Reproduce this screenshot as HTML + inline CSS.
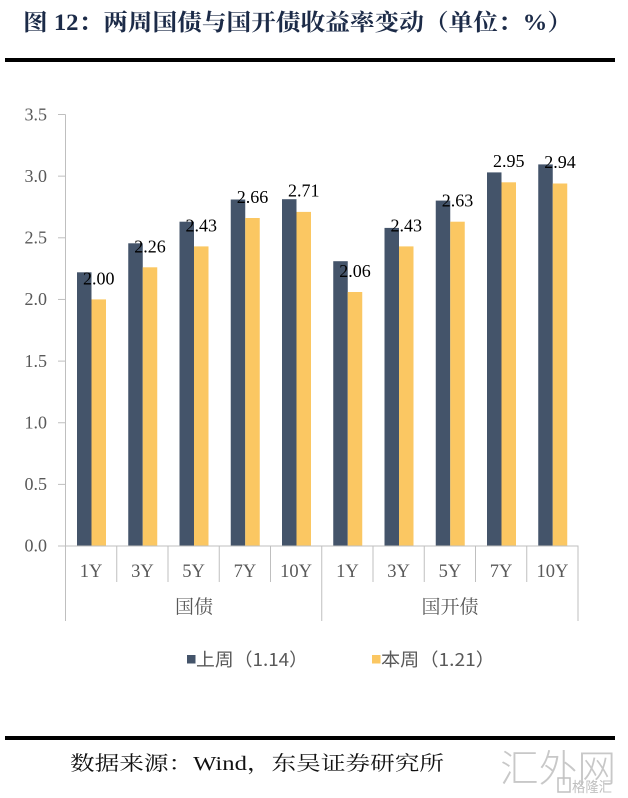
<!DOCTYPE html>
<html>
<head>
<meta charset="utf-8">
<style>
  html, body { margin: 0; padding: 0; background: #ffffff; }
  body { width: 628px; height: 798px; overflow: hidden; }
  svg { display: block; }
</style>
</head>
<body>
<svg width="628" height="798" viewBox="0 0 628 798" xmlns="http://www.w3.org/2000/svg">
  <rect x="0" y="0" width="628" height="798" fill="#ffffff"/>

  <!-- Title -->
  <text x="23" y="30" font-family="'Liberation Serif','Noto Serif CJK SC',serif" font-size="23" font-weight="bold" fill="#1c2b48" textLength="549" lengthAdjust="spacingAndGlyphs">图 12：两周国债与国开债收益率变动（单位：%）</text>

  <!-- Top rule -->
  <rect x="5" y="58" width="610" height="4" fill="#000000"/>

  <!-- Y axis -->
  <line x1="65.5" y1="114.5" x2="65.5" y2="546" stroke="#bfbfbf" stroke-width="1"/>
  <g stroke="#bfbfbf" stroke-width="1">
    <line x1="58" y1="114.5" x2="65.5" y2="114.5"/>
    <line x1="58" y1="176.15" x2="65.5" y2="176.15"/>
    <line x1="58" y1="237.8" x2="65.5" y2="237.8"/>
    <line x1="58" y1="299.45" x2="65.5" y2="299.45"/>
    <line x1="58" y1="361.1" x2="65.5" y2="361.1"/>
    <line x1="58" y1="422.75" x2="65.5" y2="422.75"/>
    <line x1="58" y1="484.4" x2="65.5" y2="484.4"/>
  </g>
  <g font-family="'Liberation Serif',serif" font-size="18" fill="#595959" text-anchor="end">
    <text x="47" y="120.5">3.5</text>
    <text x="47" y="182">3.0</text>
    <text x="47" y="243.5">2.5</text>
    <text x="47" y="305">2.0</text>
    <text x="47" y="367">1.5</text>
    <text x="47" y="428.5">1.0</text>
    <text x="47" y="490">0.5</text>
    <text x="47" y="551.5">0.0</text>
  </g>

  <!-- Bars: dark (上周) -->
  <g fill="#44546a">
    <rect x="77" y="272.3" width="14.5" height="273.7"/>
    <rect x="128.25" y="243.3" width="14.5" height="302.7"/>
    <rect x="179.5" y="221.7" width="14.5" height="324.3"/>
    <rect x="230.75" y="199.5" width="14.5" height="346.5"/>
    <rect x="282" y="199.2" width="14.5" height="346.8"/>
    <rect x="333.25" y="261.2" width="14.5" height="284.8"/>
    <rect x="384.5" y="227.9" width="14.5" height="318.1"/>
    <rect x="435.75" y="200.6" width="14.5" height="345.4"/>
    <rect x="487" y="172.4" width="14.5" height="373.6"/>
    <rect x="538.25" y="164.4" width="14.5" height="381.6"/>
  </g>
  <!-- Bars: yellow (本周) -->
  <g fill="#fbc762">
    <rect x="91.5" y="299.4" width="14.5" height="246.6"/>
    <rect x="142.75" y="267.3" width="14.5" height="278.7"/>
    <rect x="194" y="246.4" width="14.5" height="299.6"/>
    <rect x="245.25" y="218.0" width="14.5" height="328.0"/>
    <rect x="296.5" y="211.9" width="14.5" height="334.1"/>
    <rect x="347.75" y="292.0" width="14.5" height="254.0"/>
    <rect x="399" y="246.4" width="14.5" height="299.6"/>
    <rect x="450.25" y="221.7" width="14.5" height="324.3"/>
    <rect x="501.5" y="182.3" width="14.5" height="363.7"/>
    <rect x="552.75" y="183.5" width="14.5" height="362.5"/>
  </g>

  <!-- Data labels -->
  <g font-family="'Liberation Serif',serif" font-size="18" fill="#000000" text-anchor="middle">
    <text x="98.75" y="284.5">2.00</text>
    <text x="150" y="252.5">2.26</text>
    <text x="201.25" y="231.5">2.43</text>
    <text x="252.5" y="203">2.66</text>
    <text x="303.75" y="196.5">2.71</text>
    <text x="355" y="277">2.06</text>
    <text x="406.25" y="231.5">2.43</text>
    <text x="457.5" y="206.5">2.63</text>
    <text x="508.75" y="167">2.95</text>
    <text x="560" y="168">2.94</text>
  </g>

  <!-- X axis -->
  <line x1="58" y1="546" x2="578.5" y2="546" stroke="#bfbfbf" stroke-width="1"/>
  <g stroke="#bfbfbf" stroke-width="1">
    <line x1="65.5" y1="546" x2="65.5" y2="621"/>
    <line x1="116.75" y1="546" x2="116.75" y2="582"/>
    <line x1="168" y1="546" x2="168" y2="582"/>
    <line x1="219.25" y1="546" x2="219.25" y2="582"/>
    <line x1="270.5" y1="546" x2="270.5" y2="582"/>
    <line x1="321.75" y1="546" x2="321.75" y2="621"/>
    <line x1="373" y1="546" x2="373" y2="582"/>
    <line x1="424.25" y1="546" x2="424.25" y2="582"/>
    <line x1="475.5" y1="546" x2="475.5" y2="582"/>
    <line x1="526.75" y1="546" x2="526.75" y2="582"/>
    <line x1="578" y1="546" x2="578" y2="621"/>
  </g>
  <g font-family="'Liberation Serif',serif" font-size="18.5" fill="#595959" text-anchor="middle">
    <text x="91.1" y="577">1Y</text>
    <text x="142.4" y="577">3Y</text>
    <text x="193.6" y="577">5Y</text>
    <text x="244.9" y="577">7Y</text>
    <text x="296.1" y="577">10Y</text>
    <text x="347.4" y="577">1Y</text>
    <text x="398.6" y="577">3Y</text>
    <text x="449.9" y="577">5Y</text>
    <text x="501.1" y="577">7Y</text>
    <text x="552.4" y="577">10Y</text>
  </g>
  <g font-family="'Noto Serif CJK SC','Noto Sans CJK SC',serif" font-size="19" fill="#595959" text-anchor="middle">
    <text x="194" y="613">国债</text>
    <text x="450" y="613">国开债</text>
  </g>

  <!-- Legend -->
  <rect x="187" y="655" width="8.5" height="8.5" fill="#44546a"/>
  <text x="196" y="666" font-family="'Noto Sans CJK SC','Liberation Sans',sans-serif" font-size="18" fill="#595959" textLength="112" lengthAdjust="spacingAndGlyphs">上周（1.14）</text>
  <rect x="372" y="655" width="8.5" height="8.5" fill="#fbc762"/>
  <text x="381" y="666" font-family="'Noto Sans CJK SC','Liberation Sans',sans-serif" font-size="18" fill="#595959" textLength="114" lengthAdjust="spacingAndGlyphs">本周（1.21）</text>

  <!-- Bottom rule -->
  <rect x="5" y="736" width="610" height="4" fill="#000000"/>

  <!-- Source -->
  <text x="70" y="770" font-family="'Liberation Serif','Noto Serif CJK SC',serif" font-size="20" fill="#111111" textLength="374" lengthAdjust="spacingAndGlyphs">数据来源：Wind，东吴证券研究所</text>

  <!-- Watermark -->
  <text x="500" y="782" font-family="'Noto Sans CJK SC',sans-serif" font-size="38" font-weight="300" fill="#c8c8c8" textLength="116" lengthAdjust="spacingAndGlyphs">汇外网</text>
  <rect x="558" y="778" width="12" height="14" fill="none" stroke="#c0c0c0" stroke-width="1.5"/>
  <text x="572" y="792" font-family="'Noto Sans CJK SC',sans-serif" font-size="14" fill="#c0c0c0" textLength="40" lengthAdjust="spacingAndGlyphs">格隆汇</text>
</svg>
</body>
</html>
